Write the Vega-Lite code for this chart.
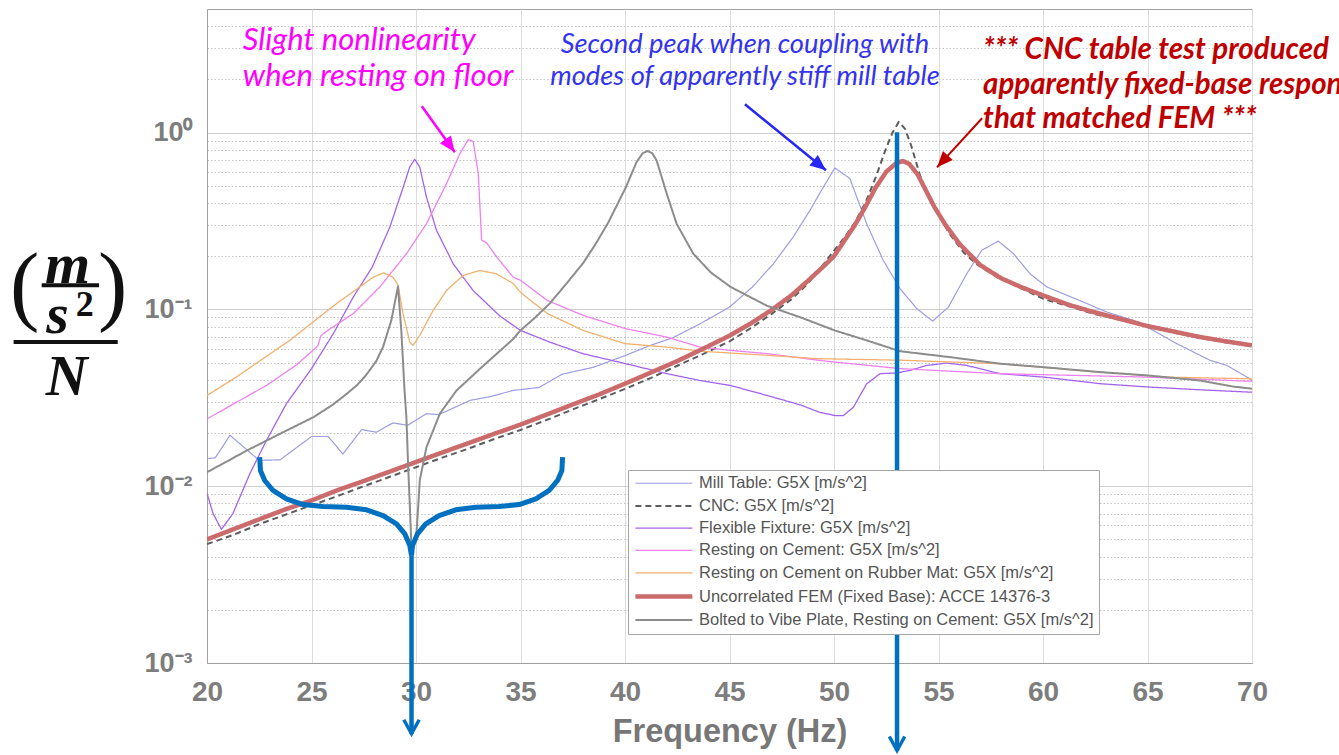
{
  "$schema": "https://vega.github.io/schema/vega-lite/v6.json",
  "width": 1045,
  "height": 654,
  "autosize": {"type": "none"},
  "padding": {"left": 207, "top": 9, "right": 87, "bottom": 92},
  "background": "#ffffff",
  "config": {
    "view": {"stroke": "#a0a0a0", "strokeWidth": 1},
    "font": "Liberation Sans"
  },
  "datasets": {
    "curves": [
      {"s": "Mill Table: G5X [m/s^2]", "f": 20, "v": 0.0143},
      {"s": "Mill Table: G5X [m/s^2]", "f": 20.4, "v": 0.0145},
      {"s": "Mill Table: G5X [m/s^2]", "f": 21.1, "v": 0.0194},
      {"s": "Mill Table: G5X [m/s^2]", "f": 22.5, "v": 0.0140},
      {"s": "Mill Table: G5X [m/s^2]", "f": 23.5, "v": 0.0141},
      {"s": "Mill Table: G5X [m/s^2]", "f": 25, "v": 0.0191},
      {"s": "Mill Table: G5X [m/s^2]", "f": 25.8, "v": 0.0191},
      {"s": "Mill Table: G5X [m/s^2]", "f": 26.5, "v": 0.0152},
      {"s": "Mill Table: G5X [m/s^2]", "f": 27.4, "v": 0.0209},
      {"s": "Mill Table: G5X [m/s^2]", "f": 28.1, "v": 0.0202},
      {"s": "Mill Table: G5X [m/s^2]", "f": 28.9, "v": 0.0228},
      {"s": "Mill Table: G5X [m/s^2]", "f": 29.6, "v": 0.0221},
      {"s": "Mill Table: G5X [m/s^2]", "f": 30.5, "v": 0.0257},
      {"s": "Mill Table: G5X [m/s^2]", "f": 31.1, "v": 0.0254},
      {"s": "Mill Table: G5X [m/s^2]", "f": 32.6, "v": 0.0306},
      {"s": "Mill Table: G5X [m/s^2]", "f": 33.5, "v": 0.0320},
      {"s": "Mill Table: G5X [m/s^2]", "f": 34.65, "v": 0.0348},
      {"s": "Mill Table: G5X [m/s^2]", "f": 35.9, "v": 0.0362},
      {"s": "Mill Table: G5X [m/s^2]", "f": 37, "v": 0.0430},
      {"s": "Mill Table: G5X [m/s^2]", "f": 38.5, "v": 0.0471},
      {"s": "Mill Table: G5X [m/s^2]", "f": 39.9, "v": 0.0542},
      {"s": "Mill Table: G5X [m/s^2]", "f": 41.2, "v": 0.0625},
      {"s": "Mill Table: G5X [m/s^2]", "f": 42.3, "v": 0.0692},
      {"s": "Mill Table: G5X [m/s^2]", "f": 43.6, "v": 0.083},
      {"s": "Mill Table: G5X [m/s^2]", "f": 45, "v": 0.103},
      {"s": "Mill Table: G5X [m/s^2]", "f": 46.1, "v": 0.134},
      {"s": "Mill Table: G5X [m/s^2]", "f": 47.1, "v": 0.181},
      {"s": "Mill Table: G5X [m/s^2]", "f": 48.05, "v": 0.257},
      {"s": "Mill Table: G5X [m/s^2]", "f": 48.85, "v": 0.363},
      {"s": "Mill Table: G5X [m/s^2]", "f": 49.3, "v": 0.45},
      {"s": "Mill Table: G5X [m/s^2]", "f": 50.04, "v": 0.631},
      {"s": "Mill Table: G5X [m/s^2]", "f": 50.76, "v": 0.55},
      {"s": "Mill Table: G5X [m/s^2]", "f": 51.56, "v": 0.306},
      {"s": "Mill Table: G5X [m/s^2]", "f": 52.36, "v": 0.189},
      {"s": "Mill Table: G5X [m/s^2]", "f": 53.16, "v": 0.131},
      {"s": "Mill Table: G5X [m/s^2]", "f": 53.96, "v": 0.101},
      {"s": "Mill Table: G5X [m/s^2]", "f": 54.72, "v": 0.0859},
      {"s": "Mill Table: G5X [m/s^2]", "f": 55.47, "v": 0.103},
      {"s": "Mill Table: G5X [m/s^2]", "f": 56.35, "v": 0.159},
      {"s": "Mill Table: G5X [m/s^2]", "f": 57.07, "v": 0.216},
      {"s": "Mill Table: G5X [m/s^2]", "f": 57.86, "v": 0.243},
      {"s": "Mill Table: G5X [m/s^2]", "f": 58.58, "v": 0.207},
      {"s": "Mill Table: G5X [m/s^2]", "f": 59.38, "v": 0.159},
      {"s": "Mill Table: G5X [m/s^2]", "f": 60.18, "v": 0.134},
      {"s": "Mill Table: G5X [m/s^2]", "f": 61.93, "v": 0.110},
      {"s": "Mill Table: G5X [m/s^2]", "f": 63.05, "v": 0.0966},
      {"s": "Mill Table: G5X [m/s^2]", "f": 64.33, "v": 0.0867},
      {"s": "Mill Table: G5X [m/s^2]", "f": 65.28, "v": 0.076},
      {"s": "Mill Table: G5X [m/s^2]", "f": 66.4, "v": 0.064},
      {"s": "Mill Table: G5X [m/s^2]", "f": 68, "v": 0.0515},
      {"s": "Mill Table: G5X [m/s^2]", "f": 68.8, "v": 0.0482},
      {"s": "Mill Table: G5X [m/s^2]", "f": 69.76, "v": 0.0414},
      {"s": "Mill Table: G5X [m/s^2]", "f": 70, "v": 0.0396},

      {"s": "CNC: G5X [m/s^2]", "f": 20, "v": 0.0047},
      {"s": "CNC: G5X [m/s^2]", "f": 21.25, "v": 0.0053},
      {"s": "CNC: G5X [m/s^2]", "f": 22.5, "v": 0.0061},
      {"s": "CNC: G5X [m/s^2]", "f": 23.75, "v": 0.0069},
      {"s": "CNC: G5X [m/s^2]", "f": 25, "v": 0.0078},
      {"s": "CNC: G5X [m/s^2]", "f": 26.25, "v": 0.0088},
      {"s": "CNC: G5X [m/s^2]", "f": 27.5, "v": 0.0100},
      {"s": "CNC: G5X [m/s^2]", "f": 28.75, "v": 0.0113},
      {"s": "CNC: G5X [m/s^2]", "f": 30, "v": 0.0128},
      {"s": "CNC: G5X [m/s^2]", "f": 31.25, "v": 0.0145},
      {"s": "CNC: G5X [m/s^2]", "f": 32.5, "v": 0.0163},
      {"s": "CNC: G5X [m/s^2]", "f": 33.75, "v": 0.0185},
      {"s": "CNC: G5X [m/s^2]", "f": 35, "v": 0.0208},
      {"s": "CNC: G5X [m/s^2]", "f": 36.25, "v": 0.0237},
      {"s": "CNC: G5X [m/s^2]", "f": 37.5, "v": 0.0272},
      {"s": "CNC: G5X [m/s^2]", "f": 38.75, "v": 0.031},
      {"s": "CNC: G5X [m/s^2]", "f": 40, "v": 0.0355},
      {"s": "CNC: G5X [m/s^2]", "f": 41.25, "v": 0.041},
      {"s": "CNC: G5X [m/s^2]", "f": 42.5, "v": 0.048},
      {"s": "CNC: G5X [m/s^2]", "f": 43.75, "v": 0.056},
      {"s": "CNC: G5X [m/s^2]", "f": 45, "v": 0.066},
      {"s": "CNC: G5X [m/s^2]", "f": 46, "v": 0.078},
      {"s": "CNC: G5X [m/s^2]", "f": 47, "v": 0.094},
      {"s": "CNC: G5X [m/s^2]", "f": 48, "v": 0.115},
      {"s": "CNC: G5X [m/s^2]", "f": 48.75, "v": 0.14},
      {"s": "CNC: G5X [m/s^2]", "f": 49.5, "v": 0.18},
      {"s": "CNC: G5X [m/s^2]", "f": 50, "v": 0.215},
      {"s": "CNC: G5X [m/s^2]", "f": 50.5, "v": 0.255},
      {"s": "CNC: G5X [m/s^2]", "f": 51, "v": 0.31},
      {"s": "CNC: G5X [m/s^2]", "f": 51.5, "v": 0.40},
      {"s": "CNC: G5X [m/s^2]", "f": 52, "v": 0.56},
      {"s": "CNC: G5X [m/s^2]", "f": 52.5, "v": 0.82},
      {"s": "CNC: G5X [m/s^2]", "f": 52.8, "v": 1.0},
      {"s": "CNC: G5X [m/s^2]", "f": 53.1, "v": 1.15},
      {"s": "CNC: G5X [m/s^2]", "f": 53.4, "v": 1.05},
      {"s": "CNC: G5X [m/s^2]", "f": 53.7, "v": 0.84},
      {"s": "CNC: G5X [m/s^2]", "f": 54.1, "v": 0.58},
      {"s": "CNC: G5X [m/s^2]", "f": 54.5, "v": 0.44},
      {"s": "CNC: G5X [m/s^2]", "f": 54.8, "v": 0.38},
      {"s": "CNC: G5X [m/s^2]", "f": 55.5, "v": 0.27},
      {"s": "CNC: G5X [m/s^2]", "f": 56.2, "v": 0.21},
      {"s": "CNC: G5X [m/s^2]", "f": 56.8, "v": 0.181},
      {"s": "CNC: G5X [m/s^2]", "f": 57.8, "v": 0.152},
      {"s": "CNC: G5X [m/s^2]", "f": 58.8, "v": 0.134},
      {"s": "CNC: G5X [m/s^2]", "f": 60, "v": 0.115},
      {"s": "CNC: G5X [m/s^2]", "f": 61.25, "v": 0.104},
      {"s": "CNC: G5X [m/s^2]", "f": 62.4, "v": 0.0946},
      {"s": "CNC: G5X [m/s^2]", "f": 63.75, "v": 0.087},
      {"s": "CNC: G5X [m/s^2]", "f": 65, "v": 0.080},
      {"s": "CNC: G5X [m/s^2]", "f": 66.25, "v": 0.074},
      {"s": "CNC: G5X [m/s^2]", "f": 67.5, "v": 0.069},
      {"s": "CNC: G5X [m/s^2]", "f": 68.75, "v": 0.065},
      {"s": "CNC: G5X [m/s^2]", "f": 70, "v": 0.062},

      {"s": "Flexible Fixture: G5X [m/s^2]", "f": 20, "v": 0.0091},
      {"s": "Flexible Fixture: G5X [m/s^2]", "f": 20.29, "v": 0.0070},
      {"s": "Flexible Fixture: G5X [m/s^2]", "f": 20.69, "v": 0.0057},
      {"s": "Flexible Fixture: G5X [m/s^2]", "f": 21.24, "v": 0.0070},
      {"s": "Flexible Fixture: G5X [m/s^2]", "f": 22.04, "v": 0.0117},
      {"s": "Flexible Fixture: G5X [m/s^2]", "f": 22.84, "v": 0.0181},
      {"s": "Flexible Fixture: G5X [m/s^2]", "f": 23.8, "v": 0.0293},
      {"s": "Flexible Fixture: G5X [m/s^2]", "f": 25, "v": 0.0462},
      {"s": "Flexible Fixture: G5X [m/s^2]", "f": 26.04, "v": 0.0728},
      {"s": "Flexible Fixture: G5X [m/s^2]", "f": 27, "v": 0.1174},
      {"s": "Flexible Fixture: G5X [m/s^2]", "f": 27.9, "v": 0.173},
      {"s": "Flexible Fixture: G5X [m/s^2]", "f": 28.75, "v": 0.292},
      {"s": "Flexible Fixture: G5X [m/s^2]", "f": 29.39, "v": 0.492},
      {"s": "Flexible Fixture: G5X [m/s^2]", "f": 29.7, "v": 0.638},
      {"s": "Flexible Fixture: G5X [m/s^2]", "f": 29.94, "v": 0.706},
      {"s": "Flexible Fixture: G5X [m/s^2]", "f": 30.18, "v": 0.638},
      {"s": "Flexible Fixture: G5X [m/s^2]", "f": 30.5, "v": 0.432},
      {"s": "Flexible Fixture: G5X [m/s^2]", "f": 30.98, "v": 0.280},
      {"s": "Flexible Fixture: G5X [m/s^2]", "f": 31.78, "v": 0.181},
      {"s": "Flexible Fixture: G5X [m/s^2]", "f": 32.73, "v": 0.128},
      {"s": "Flexible Fixture: G5X [m/s^2]", "f": 34, "v": 0.092},
      {"s": "Flexible Fixture: G5X [m/s^2]", "f": 35, "v": 0.076},
      {"s": "Flexible Fixture: G5X [m/s^2]", "f": 36.4, "v": 0.0653},
      {"s": "Flexible Fixture: G5X [m/s^2]", "f": 38, "v": 0.0561},
      {"s": "Flexible Fixture: G5X [m/s^2]", "f": 40.04, "v": 0.0493},
      {"s": "Flexible Fixture: G5X [m/s^2]", "f": 42, "v": 0.0433},
      {"s": "Flexible Fixture: G5X [m/s^2]", "f": 43.6, "v": 0.0396},
      {"s": "Flexible Fixture: G5X [m/s^2]", "f": 45.05, "v": 0.0371},
      {"s": "Flexible Fixture: G5X [m/s^2]", "f": 46.8, "v": 0.0326},
      {"s": "Flexible Fixture: G5X [m/s^2]", "f": 48.4, "v": 0.0288},
      {"s": "Flexible Fixture: G5X [m/s^2]", "f": 49.3, "v": 0.0262},
      {"s": "Flexible Fixture: G5X [m/s^2]", "f": 50.04, "v": 0.0251},
      {"s": "Flexible Fixture: G5X [m/s^2]", "f": 50.45, "v": 0.0251},
      {"s": "Flexible Fixture: G5X [m/s^2]", "f": 50.93, "v": 0.028},
      {"s": "Flexible Fixture: G5X [m/s^2]", "f": 51.56, "v": 0.0379},
      {"s": "Flexible Fixture: G5X [m/s^2]", "f": 52.2, "v": 0.0433},
      {"s": "Flexible Fixture: G5X [m/s^2]", "f": 53, "v": 0.0437},
      {"s": "Flexible Fixture: G5X [m/s^2]", "f": 53.64, "v": 0.0452},
      {"s": "Flexible Fixture: G5X [m/s^2]", "f": 54.43, "v": 0.0482},
      {"s": "Flexible Fixture: G5X [m/s^2]", "f": 55.39, "v": 0.0497},
      {"s": "Flexible Fixture: G5X [m/s^2]", "f": 56.35, "v": 0.0482},
      {"s": "Flexible Fixture: G5X [m/s^2]", "f": 57.94, "v": 0.0433},
      {"s": "Flexible Fixture: G5X [m/s^2]", "f": 60.04, "v": 0.0414},
      {"s": "Flexible Fixture: G5X [m/s^2]", "f": 62.73, "v": 0.038},
      {"s": "Flexible Fixture: G5X [m/s^2]", "f": 65.02, "v": 0.0364},
      {"s": "Flexible Fixture: G5X [m/s^2]", "f": 67.5, "v": 0.0351},
      {"s": "Flexible Fixture: G5X [m/s^2]", "f": 70, "v": 0.034},

      {"s": "Resting on Cement: G5X [m/s^2]", "f": 20, "v": 0.0240},
      {"s": "Resting on Cement: G5X [m/s^2]", "f": 21.4, "v": 0.0298},
      {"s": "Resting on Cement: G5X [m/s^2]", "f": 22.84, "v": 0.0371},
      {"s": "Resting on Cement: G5X [m/s^2]", "f": 24.28, "v": 0.0485},
      {"s": "Resting on Cement: G5X [m/s^2]", "f": 25.3, "v": 0.062},
      {"s": "Resting on Cement: G5X [m/s^2]", "f": 25.45, "v": 0.071},
      {"s": "Resting on Cement: G5X [m/s^2]", "f": 25.72, "v": 0.0753},
      {"s": "Resting on Cement: G5X [m/s^2]", "f": 27, "v": 0.0946},
      {"s": "Resting on Cement: G5X [m/s^2]", "f": 28.27, "v": 0.134},
      {"s": "Resting on Cement: G5X [m/s^2]", "f": 29.55, "v": 0.207},
      {"s": "Resting on Cement: G5X [m/s^2]", "f": 30.5, "v": 0.305},
      {"s": "Resting on Cement: G5X [m/s^2]", "f": 31.46, "v": 0.514},
      {"s": "Resting on Cement: G5X [m/s^2]", "f": 32.1, "v": 0.760},
      {"s": "Resting on Cement: G5X [m/s^2]", "f": 32.5, "v": 0.912},
      {"s": "Resting on Cement: G5X [m/s^2]", "f": 32.74, "v": 0.89},
      {"s": "Resting on Cement: G5X [m/s^2]", "f": 32.98, "v": 0.586},
      {"s": "Resting on Cement: G5X [m/s^2]", "f": 33.14, "v": 0.246},
      {"s": "Resting on Cement: G5X [m/s^2]", "f": 33.38, "v": 0.238},
      {"s": "Resting on Cement: G5X [m/s^2]", "f": 33.86, "v": 0.198},
      {"s": "Resting on Cement: G5X [m/s^2]", "f": 34.65, "v": 0.152},
      {"s": "Resting on Cement: G5X [m/s^2]", "f": 35, "v": 0.146},
      {"s": "Resting on Cement: G5X [m/s^2]", "f": 36.3, "v": 0.112},
      {"s": "Resting on Cement: G5X [m/s^2]", "f": 38, "v": 0.0925},
      {"s": "Resting on Cement: G5X [m/s^2]", "f": 40, "v": 0.078},
      {"s": "Resting on Cement: G5X [m/s^2]", "f": 42, "v": 0.0697},
      {"s": "Resting on Cement: G5X [m/s^2]", "f": 43.6, "v": 0.0612},
      {"s": "Resting on Cement: G5X [m/s^2]", "f": 45, "v": 0.0587},
      {"s": "Resting on Cement: G5X [m/s^2]", "f": 46.8, "v": 0.0562},
      {"s": "Resting on Cement: G5X [m/s^2]", "f": 49.3, "v": 0.0515},
      {"s": "Resting on Cement: G5X [m/s^2]", "f": 50, "v": 0.0504},
      {"s": "Resting on Cement: G5X [m/s^2]", "f": 53.2, "v": 0.0462},
      {"s": "Resting on Cement: G5X [m/s^2]", "f": 57.9, "v": 0.0433},
      {"s": "Resting on Cement: G5X [m/s^2]", "f": 62, "v": 0.0422},
      {"s": "Resting on Cement: G5X [m/s^2]", "f": 65, "v": 0.0414},
      {"s": "Resting on Cement: G5X [m/s^2]", "f": 70, "v": 0.0392},

      {"s": "Resting on Cement on Rubber Mat: G5X [m/s^2]", "f": 20, "v": 0.0326},
      {"s": "Resting on Cement on Rubber Mat: G5X [m/s^2]", "f": 21.4, "v": 0.0414},
      {"s": "Resting on Cement on Rubber Mat: G5X [m/s^2]", "f": 22.68, "v": 0.0526},
      {"s": "Resting on Cement on Rubber Mat: G5X [m/s^2]", "f": 23.96, "v": 0.0668},
      {"s": "Resting on Cement on Rubber Mat: G5X [m/s^2]", "f": 25.07, "v": 0.0848},
      {"s": "Resting on Cement on Rubber Mat: G5X [m/s^2]", "f": 26.19, "v": 0.1077},
      {"s": "Resting on Cement on Rubber Mat: G5X [m/s^2]", "f": 27.31, "v": 0.134},
      {"s": "Resting on Cement on Rubber Mat: G5X [m/s^2]", "f": 27.95, "v": 0.152},
      {"s": "Resting on Cement on Rubber Mat: G5X [m/s^2]", "f": 28.46, "v": 0.161},
      {"s": "Resting on Cement on Rubber Mat: G5X [m/s^2]", "f": 28.9, "v": 0.152},
      {"s": "Resting on Cement on Rubber Mat: G5X [m/s^2]", "f": 29.14, "v": 0.137},
      {"s": "Resting on Cement on Rubber Mat: G5X [m/s^2]", "f": 29.38, "v": 0.0946},
      {"s": "Resting on Cement on Rubber Mat: G5X [m/s^2]", "f": 29.7, "v": 0.0653},
      {"s": "Resting on Cement on Rubber Mat: G5X [m/s^2]", "f": 29.86, "v": 0.0626},
      {"s": "Resting on Cement on Rubber Mat: G5X [m/s^2]", "f": 30.18, "v": 0.0713},
      {"s": "Resting on Cement on Rubber Mat: G5X [m/s^2]", "f": 30.82, "v": 0.0986},
      {"s": "Resting on Cement on Rubber Mat: G5X [m/s^2]", "f": 31.46, "v": 0.128},
      {"s": "Resting on Cement on Rubber Mat: G5X [m/s^2]", "f": 32.25, "v": 0.1555},
      {"s": "Resting on Cement on Rubber Mat: G5X [m/s^2]", "f": 33.05, "v": 0.166},
      {"s": "Resting on Cement on Rubber Mat: G5X [m/s^2]", "f": 33.85, "v": 0.159},
      {"s": "Resting on Cement on Rubber Mat: G5X [m/s^2]", "f": 34.65, "v": 0.140},
      {"s": "Resting on Cement on Rubber Mat: G5X [m/s^2]", "f": 35, "v": 0.125},
      {"s": "Resting on Cement on Rubber Mat: G5X [m/s^2]", "f": 35.45, "v": 0.113},
      {"s": "Resting on Cement on Rubber Mat: G5X [m/s^2]", "f": 36.3, "v": 0.0946},
      {"s": "Resting on Cement on Rubber Mat: G5X [m/s^2]", "f": 38, "v": 0.076},
      {"s": "Resting on Cement on Rubber Mat: G5X [m/s^2]", "f": 40, "v": 0.064},
      {"s": "Resting on Cement on Rubber Mat: G5X [m/s^2]", "f": 42, "v": 0.0612},
      {"s": "Resting on Cement on Rubber Mat: G5X [m/s^2]", "f": 43.6, "v": 0.058},
      {"s": "Resting on Cement on Rubber Mat: G5X [m/s^2]", "f": 45, "v": 0.0567},
      {"s": "Resting on Cement on Rubber Mat: G5X [m/s^2]", "f": 46.8, "v": 0.055},
      {"s": "Resting on Cement on Rubber Mat: G5X [m/s^2]", "f": 49.3, "v": 0.0526},
      {"s": "Resting on Cement on Rubber Mat: G5X [m/s^2]", "f": 53.2, "v": 0.0516},
      {"s": "Resting on Cement on Rubber Mat: G5X [m/s^2]", "f": 57.9, "v": 0.0493},
      {"s": "Resting on Cement on Rubber Mat: G5X [m/s^2]", "f": 62.7, "v": 0.0442},
      {"s": "Resting on Cement on Rubber Mat: G5X [m/s^2]", "f": 65.9, "v": 0.0414},
      {"s": "Resting on Cement on Rubber Mat: G5X [m/s^2]", "f": 70, "v": 0.0405},

      {"s": "Uncorrelated FEM (Fixed Base): ACCE 14376-3", "f": 20, "v": 0.0050},
      {"s": "Uncorrelated FEM (Fixed Base): ACCE 14376-3", "f": 21.25, "v": 0.0057},
      {"s": "Uncorrelated FEM (Fixed Base): ACCE 14376-3", "f": 22.5, "v": 0.0065},
      {"s": "Uncorrelated FEM (Fixed Base): ACCE 14376-3", "f": 23.75, "v": 0.0074},
      {"s": "Uncorrelated FEM (Fixed Base): ACCE 14376-3", "f": 25, "v": 0.0083},
      {"s": "Uncorrelated FEM (Fixed Base): ACCE 14376-3", "f": 26.25, "v": 0.0095},
      {"s": "Uncorrelated FEM (Fixed Base): ACCE 14376-3", "f": 27.5, "v": 0.0107},
      {"s": "Uncorrelated FEM (Fixed Base): ACCE 14376-3", "f": 28.75, "v": 0.0121},
      {"s": "Uncorrelated FEM (Fixed Base): ACCE 14376-3", "f": 30, "v": 0.0137},
      {"s": "Uncorrelated FEM (Fixed Base): ACCE 14376-3", "f": 31.25, "v": 0.0155},
      {"s": "Uncorrelated FEM (Fixed Base): ACCE 14376-3", "f": 32.5, "v": 0.0175},
      {"s": "Uncorrelated FEM (Fixed Base): ACCE 14376-3", "f": 33.75, "v": 0.0198},
      {"s": "Uncorrelated FEM (Fixed Base): ACCE 14376-3", "f": 35, "v": 0.0223},
      {"s": "Uncorrelated FEM (Fixed Base): ACCE 14376-3", "f": 36.25, "v": 0.0254},
      {"s": "Uncorrelated FEM (Fixed Base): ACCE 14376-3", "f": 37.5, "v": 0.029},
      {"s": "Uncorrelated FEM (Fixed Base): ACCE 14376-3", "f": 38.75, "v": 0.033},
      {"s": "Uncorrelated FEM (Fixed Base): ACCE 14376-3", "f": 40, "v": 0.038},
      {"s": "Uncorrelated FEM (Fixed Base): ACCE 14376-3", "f": 41.25, "v": 0.044},
      {"s": "Uncorrelated FEM (Fixed Base): ACCE 14376-3", "f": 42.5, "v": 0.051},
      {"s": "Uncorrelated FEM (Fixed Base): ACCE 14376-3", "f": 43.75, "v": 0.060},
      {"s": "Uncorrelated FEM (Fixed Base): ACCE 14376-3", "f": 45, "v": 0.071},
      {"s": "Uncorrelated FEM (Fixed Base): ACCE 14376-3", "f": 46, "v": 0.083},
      {"s": "Uncorrelated FEM (Fixed Base): ACCE 14376-3", "f": 47, "v": 0.099},
      {"s": "Uncorrelated FEM (Fixed Base): ACCE 14376-3", "f": 48, "v": 0.121},
      {"s": "Uncorrelated FEM (Fixed Base): ACCE 14376-3", "f": 48.75, "v": 0.145},
      {"s": "Uncorrelated FEM (Fixed Base): ACCE 14376-3", "f": 49.5, "v": 0.175},
      {"s": "Uncorrelated FEM (Fixed Base): ACCE 14376-3", "f": 50, "v": 0.20},
      {"s": "Uncorrelated FEM (Fixed Base): ACCE 14376-3", "f": 50.5, "v": 0.245},
      {"s": "Uncorrelated FEM (Fixed Base): ACCE 14376-3", "f": 51, "v": 0.30},
      {"s": "Uncorrelated FEM (Fixed Base): ACCE 14376-3", "f": 51.5, "v": 0.38},
      {"s": "Uncorrelated FEM (Fixed Base): ACCE 14376-3", "f": 52, "v": 0.49},
      {"s": "Uncorrelated FEM (Fixed Base): ACCE 14376-3", "f": 52.5, "v": 0.60},
      {"s": "Uncorrelated FEM (Fixed Base): ACCE 14376-3", "f": 53, "v": 0.675},
      {"s": "Uncorrelated FEM (Fixed Base): ACCE 14376-3", "f": 53.3, "v": 0.69},
      {"s": "Uncorrelated FEM (Fixed Base): ACCE 14376-3", "f": 53.6, "v": 0.665},
      {"s": "Uncorrelated FEM (Fixed Base): ACCE 14376-3", "f": 54, "v": 0.58},
      {"s": "Uncorrelated FEM (Fixed Base): ACCE 14376-3", "f": 54.4, "v": 0.47},
      {"s": "Uncorrelated FEM (Fixed Base): ACCE 14376-3", "f": 54.8, "v": 0.38},
      {"s": "Uncorrelated FEM (Fixed Base): ACCE 14376-3", "f": 55.3, "v": 0.305},
      {"s": "Uncorrelated FEM (Fixed Base): ACCE 14376-3", "f": 56, "v": 0.235},
      {"s": "Uncorrelated FEM (Fixed Base): ACCE 14376-3", "f": 57, "v": 0.178},
      {"s": "Uncorrelated FEM (Fixed Base): ACCE 14376-3", "f": 58, "v": 0.150},
      {"s": "Uncorrelated FEM (Fixed Base): ACCE 14376-3", "f": 59, "v": 0.133},
      {"s": "Uncorrelated FEM (Fixed Base): ACCE 14376-3", "f": 60, "v": 0.120},
      {"s": "Uncorrelated FEM (Fixed Base): ACCE 14376-3", "f": 61.25, "v": 0.106},
      {"s": "Uncorrelated FEM (Fixed Base): ACCE 14376-3", "f": 62.5, "v": 0.096},
      {"s": "Uncorrelated FEM (Fixed Base): ACCE 14376-3", "f": 63.75, "v": 0.088},
      {"s": "Uncorrelated FEM (Fixed Base): ACCE 14376-3", "f": 65, "v": 0.0805},
      {"s": "Uncorrelated FEM (Fixed Base): ACCE 14376-3", "f": 66.25, "v": 0.075},
      {"s": "Uncorrelated FEM (Fixed Base): ACCE 14376-3", "f": 67.5, "v": 0.0698},
      {"s": "Uncorrelated FEM (Fixed Base): ACCE 14376-3", "f": 68.75, "v": 0.066},
      {"s": "Uncorrelated FEM (Fixed Base): ACCE 14376-3", "f": 70, "v": 0.0626},

      {"s": "Bolted to Vibe Plate, Resting on Cement: G5X [m/s^2]", "f": 20, "v": 0.0120},
      {"s": "Bolted to Vibe Plate, Resting on Cement: G5X [m/s^2]", "f": 21, "v": 0.0139},
      {"s": "Bolted to Vibe Plate, Resting on Cement: G5X [m/s^2]", "f": 21.9, "v": 0.0159},
      {"s": "Bolted to Vibe Plate, Resting on Cement: G5X [m/s^2]", "f": 23.5, "v": 0.0198},
      {"s": "Bolted to Vibe Plate, Resting on Cement: G5X [m/s^2]", "f": 25.1, "v": 0.0246},
      {"s": "Bolted to Vibe Plate, Resting on Cement: G5X [m/s^2]", "f": 26, "v": 0.0288},
      {"s": "Bolted to Vibe Plate, Resting on Cement: G5X [m/s^2]", "f": 26.7, "v": 0.0334},
      {"s": "Bolted to Vibe Plate, Resting on Cement: G5X [m/s^2]", "f": 27.2, "v": 0.0375},
      {"s": "Bolted to Vibe Plate, Resting on Cement: G5X [m/s^2]", "f": 27.6, "v": 0.0423},
      {"s": "Bolted to Vibe Plate, Resting on Cement: G5X [m/s^2]", "f": 28.1, "v": 0.051},
      {"s": "Bolted to Vibe Plate, Resting on Cement: G5X [m/s^2]", "f": 28.42, "v": 0.0612},
      {"s": "Bolted to Vibe Plate, Resting on Cement: G5X [m/s^2]", "f": 28.82, "v": 0.0867},
      {"s": "Bolted to Vibe Plate, Resting on Cement: G5X [m/s^2]", "f": 29.14, "v": 0.135},
      {"s": "Bolted to Vibe Plate, Resting on Cement: G5X [m/s^2]", "f": 29.3, "v": 0.075},
      {"s": "Bolted to Vibe Plate, Resting on Cement: G5X [m/s^2]", "f": 29.45, "v": 0.035},
      {"s": "Bolted to Vibe Plate, Resting on Cement: G5X [m/s^2]", "f": 29.54, "v": 0.0246},
      {"s": "Bolted to Vibe Plate, Resting on Cement: G5X [m/s^2]", "f": 29.62, "v": 0.0134},
      {"s": "Bolted to Vibe Plate, Resting on Cement: G5X [m/s^2]", "f": 29.7, "v": 0.008},
      {"s": "Bolted to Vibe Plate, Resting on Cement: G5X [m/s^2]", "f": 29.78, "v": 0.0046},
      {"s": "Bolted to Vibe Plate, Resting on Cement: G5X [m/s^2]", "f": 29.9, "v": 0.0048},
      {"s": "Bolted to Vibe Plate, Resting on Cement: G5X [m/s^2]", "f": 30.02, "v": 0.0054},
      {"s": "Bolted to Vibe Plate, Resting on Cement: G5X [m/s^2]", "f": 30.1, "v": 0.0075},
      {"s": "Bolted to Vibe Plate, Resting on Cement: G5X [m/s^2]", "f": 30.18, "v": 0.0108},
      {"s": "Bolted to Vibe Plate, Resting on Cement: G5X [m/s^2]", "f": 30.5, "v": 0.0166},
      {"s": "Bolted to Vibe Plate, Resting on Cement: G5X [m/s^2]", "f": 31.14, "v": 0.0257},
      {"s": "Bolted to Vibe Plate, Resting on Cement: G5X [m/s^2]", "f": 31.94, "v": 0.0348},
      {"s": "Bolted to Vibe Plate, Resting on Cement: G5X [m/s^2]", "f": 33.05, "v": 0.046},
      {"s": "Bolted to Vibe Plate, Resting on Cement: G5X [m/s^2]", "f": 34, "v": 0.058},
      {"s": "Bolted to Vibe Plate, Resting on Cement: G5X [m/s^2]", "f": 34.65, "v": 0.068},
      {"s": "Bolted to Vibe Plate, Resting on Cement: G5X [m/s^2]", "f": 35, "v": 0.076},
      {"s": "Bolted to Vibe Plate, Resting on Cement: G5X [m/s^2]", "f": 35.7, "v": 0.09},
      {"s": "Bolted to Vibe Plate, Resting on Cement: G5X [m/s^2]", "f": 36.4, "v": 0.108},
      {"s": "Bolted to Vibe Plate, Resting on Cement: G5X [m/s^2]", "f": 37.2, "v": 0.14},
      {"s": "Bolted to Vibe Plate, Resting on Cement: G5X [m/s^2]", "f": 38, "v": 0.183},
      {"s": "Bolted to Vibe Plate, Resting on Cement: G5X [m/s^2]", "f": 38.6, "v": 0.235},
      {"s": "Bolted to Vibe Plate, Resting on Cement: G5X [m/s^2]", "f": 39.2, "v": 0.31},
      {"s": "Bolted to Vibe Plate, Resting on Cement: G5X [m/s^2]", "f": 40.04, "v": 0.49},
      {"s": "Bolted to Vibe Plate, Resting on Cement: G5X [m/s^2]", "f": 40.55, "v": 0.68},
      {"s": "Bolted to Vibe Plate, Resting on Cement: G5X [m/s^2]", "f": 40.85, "v": 0.765},
      {"s": "Bolted to Vibe Plate, Resting on Cement: G5X [m/s^2]", "f": 41.08, "v": 0.787},
      {"s": "Bolted to Vibe Plate, Resting on Cement: G5X [m/s^2]", "f": 41.3, "v": 0.765},
      {"s": "Bolted to Vibe Plate, Resting on Cement: G5X [m/s^2]", "f": 41.51, "v": 0.697},
      {"s": "Bolted to Vibe Plate, Resting on Cement: G5X [m/s^2]", "f": 42, "v": 0.45},
      {"s": "Bolted to Vibe Plate, Resting on Cement: G5X [m/s^2]", "f": 42.47, "v": 0.305},
      {"s": "Bolted to Vibe Plate, Resting on Cement: G5X [m/s^2]", "f": 43.26, "v": 0.207},
      {"s": "Bolted to Vibe Plate, Resting on Cement: G5X [m/s^2]", "f": 44.1, "v": 0.162},
      {"s": "Bolted to Vibe Plate, Resting on Cement: G5X [m/s^2]", "f": 45.05, "v": 0.134},
      {"s": "Bolted to Vibe Plate, Resting on Cement: G5X [m/s^2]", "f": 46.78, "v": 0.105},
      {"s": "Bolted to Vibe Plate, Resting on Cement: G5X [m/s^2]", "f": 48.37, "v": 0.0904},
      {"s": "Bolted to Vibe Plate, Resting on Cement: G5X [m/s^2]", "f": 50.04, "v": 0.076},
      {"s": "Bolted to Vibe Plate, Resting on Cement: G5X [m/s^2]", "f": 51.56, "v": 0.0668},
      {"s": "Bolted to Vibe Plate, Resting on Cement: G5X [m/s^2]", "f": 53.16, "v": 0.058},
      {"s": "Bolted to Vibe Plate, Resting on Cement: G5X [m/s^2]", "f": 55.55, "v": 0.0537},
      {"s": "Bolted to Vibe Plate, Resting on Cement: G5X [m/s^2]", "f": 57.94, "v": 0.0493},
      {"s": "Bolted to Vibe Plate, Resting on Cement: G5X [m/s^2]", "f": 60.04, "v": 0.0471},
      {"s": "Bolted to Vibe Plate, Resting on Cement: G5X [m/s^2]", "f": 62.73, "v": 0.0442},
      {"s": "Bolted to Vibe Plate, Resting on Cement: G5X [m/s^2]", "f": 65.02, "v": 0.0423},
      {"s": "Bolted to Vibe Plate, Resting on Cement: G5X [m/s^2]", "f": 67.51, "v": 0.0396},
      {"s": "Bolted to Vibe Plate, Resting on Cement: G5X [m/s^2]", "f": 69.1, "v": 0.0366},
      {"s": "Bolted to Vibe Plate, Resting on Cement: G5X [m/s^2]", "f": 70, "v": 0.0356}
    ],
    "brace": [
      {"k": "L", "i": 0, "f": 22.523, "v": 0.014593},
      {"k": "L", "i": 1, "f": 22.556, "v": 0.012270},
      {"k": "L", "i": 2, "f": 22.762, "v": 0.010772},
      {"k": "L", "i": 3, "f": 23.159, "v": 0.009456},
      {"k": "L", "i": 4, "f": 23.801, "v": 0.008487},
      {"k": "L", "i": 5, "f": 24.596, "v": 0.007877},
      {"k": "L", "i": 6, "f": 25.553, "v": 0.007675},
      {"k": "L", "i": 7, "f": 26.673, "v": 0.007605},
      {"k": "L", "i": 8, "f": 27.631, "v": 0.007351},
      {"k": "L", "i": 9, "f": 28.425, "v": 0.006826},
      {"k": "L", "i": 10, "f": 29.067, "v": 0.006125},
      {"k": "L", "i": 11, "f": 29.464, "v": 0.005376},
      {"k": "L", "i": 12, "f": 29.703, "v": 0.004618},
      {"k": "L", "i": 13, "f": 29.785, "v": 0.004053},
      {"k": "R", "i": 0, "f": 37.013, "v": 0.014593},
      {"k": "R", "i": 1, "f": 36.980, "v": 0.012270},
      {"k": "R", "i": 2, "f": 36.774, "v": 0.010772},
      {"k": "R", "i": 3, "f": 36.371, "v": 0.009456},
      {"k": "R", "i": 4, "f": 35.735, "v": 0.008487},
      {"k": "R", "i": 5, "f": 34.936, "v": 0.007877},
      {"k": "R", "i": 6, "f": 33.978, "v": 0.007675},
      {"k": "R", "i": 7, "f": 32.863, "v": 0.007605},
      {"k": "R", "i": 8, "f": 31.905, "v": 0.007351},
      {"k": "R", "i": 9, "f": 31.106, "v": 0.006826},
      {"k": "R", "i": 10, "f": 30.469, "v": 0.006125},
      {"k": "R", "i": 11, "f": 30.072, "v": 0.005376},
      {"k": "R", "i": 12, "f": 29.833, "v": 0.004618},
      {"k": "R", "i": 13, "f": 29.785, "v": 0.004053}
    ],
    "drops": [
      {"k": "30 Hz", "f": 29.785, "v": 0.004053, "v2": 0.000398},
      {"k": "53 Hz", "f": 53.016, "v": 1.004, "v2": 0.00032}
    ],
    "arrows": [
      {"k": "mag", "f": 30.278, "v": 1.409, "f2": 31.857, "v2": 0.7736},
      {"k": "blu", "f": 45.740, "v": 1.4459, "f2": 49.617, "v2": 0.6118},
      {"k": "red", "f": 57.085, "v": 1.2048, "f2": 54.930, "v2": 0.6362}
    ],
    "notes": [
      {"k": "mag", "f": 21.709, "v": 3.287, "t": "Slight nonlinearity"},
      {"k": "mag", "f": 21.709, "v": 2.056, "t": "when resting on floor"},
      {"k": "blu", "f": 45.740, "v": 3.120, "t": "Second peak when coupling with"},
      {"k": "blu", "f": 45.740, "v": 2.056, "t": "modes of apparently stiff mill table"},
      {"k": "red", "f": 57.133, "v": 2.923, "t": "*** CNC table test produced"},
      {"k": "red", "f": 57.133, "v": 1.852, "t": "apparently fixed-base response"},
      {"k": "red", "f": 57.133, "v": 1.189, "t": "that matched FEM ***"}
    ],
    "unit": [
      {"k": "letter", "f": 13.332, "v": 0.14034, "t": "m"},
      {"k": "letter", "f": 12.853, "v": 0.07315, "t": "s"},
      {"k": "letter", "f": 13.284, "v": 0.03261, "t": "N"},
      {"k": "power", "f": 14.146, "v": 0.09129, "t": "2"},
      {"k": "paren", "f": 11.273, "v": 0.0937, "t": "("},
      {"k": "paren", "f": 15.485, "v": 0.0937, "t": ")"}
    ],
    "bars": [
      {"k": "outer", "f": 10.747, "f2": 15.728, "v": 0.06549},
      {"k": "inner", "f": 12.089, "f2": 14.837, "v": 0.13674}
    ]
  },
  "encoding": {
    "x": {
      "field": "f",
      "type": "quantitative",
      "scale": {"domain": [20, 70], "nice": false, "zero": false},
      "axis": {
        "values": [20, 25, 30, 35, 40, 45, 50, 55, 60, 65, 70],
        "title": "Frequency (Hz)",
        "grid": true,
        "gridColor": "#dcdcdc",
        "domainColor": "#a0a0a0",
        "ticks": false,
        "labelFont": "Liberation Sans",
        "labelFontWeight": "bold",
        "labelFontSize": 28,
        "labelColor": "#7d7d7d",
        "labelPadding": 15,
        "labelFlush": false,
        "labelOverlap": false,
        "titleFont": "Liberation Sans",
        "titleFontWeight": "bold",
        "titleFontSize": 32.5,
        "titleColor": "#777777",
        "titlePadding": 9
      }
    },
    "y": {
      "field": "v",
      "type": "quantitative",
      "scale": {"type": "log", "domain": [0.001, 5], "nice": false},
      "axis": {
        "values": [0.001, 0.002, 0.003, 0.004, 0.005, 0.006, 0.007, 0.008, 0.009, 0.01, 0.02, 0.03, 0.04, 0.05, 0.06, 0.07, 0.08, 0.09, 0.1, 0.2, 0.3, 0.4, 0.5, 0.6, 0.7, 0.8, 0.9, 1, 2, 3, 4],
        "title": null,
        "grid": true,
        "gridColor": {"condition": {"test": "datum.value == 1 || datum.value == 0.1 || datum.value == 0.01 || datum.value == 0.001", "value": "#cfcfcf"}, "value": "#c4c4c4"},
        "gridDash": {"condition": {"test": "datum.value == 1 || datum.value == 0.1 || datum.value == 0.01 || datum.value == 0.001", "value": []}, "value": [1.5, 2]},
        "domainColor": "#a0a0a0",
        "ticks": false,
        "labelExpr": "datum.value == 1 ? '10\u2070' : datum.value == 0.1 ? '10\u207b\u00b9' : datum.value == 0.01 ? '10\u207b\u00b2' : datum.value == 0.001 ? '10\u207b\u00b3' : ''",
        "labelOverlap": false,
        "labelFont": "Liberation Sans",
        "labelFontWeight": "bold",
        "labelFontSize": 27,
        "labelColor": "#7d7d7d",
        "labelPadding": 15
      }
    }
  },
  "layer": [
    {
      "data": {"name": "curves"},
      "mark": {"type": "line", "clip": true, "strokeJoin": "round"},
      "encoding": {
        "color": {
          "field": "s",
          "type": "nominal",
          "scale": {
            "domain": ["Mill Table: G5X [m/s^2]", "CNC: G5X [m/s^2]", "Flexible Fixture: G5X [m/s^2]", "Resting on Cement: G5X [m/s^2]", "Resting on Cement on Rubber Mat: G5X [m/s^2]", "Uncorrelated FEM (Fixed Base): ACCE 14376-3", "Bolted to Vibe Plate, Resting on Cement: G5X [m/s^2]"],
            "range": ["#9d9de2", "#5c5c5c", "#a463ec", "#ef80ef", "#f2b06c", "#cc6b6b", "#8c8c8c"]
          },
          "legend": {
            "orient": "none",
            "legendX": 421,
            "legendY": 461,
            "title": null,
            "symbolType": "M-1,0L7,0",
            "symbolSize": 203,
            "labelFont": "Liberation Sans",
            "labelFontSize": 16.5,
            "labelColor": "#555555",
            "labelLimit": 440,
            "labelOffset": 47,
            "fillColor": "#ffffff",
            "strokeColor": "#a6a6a6",
            "padding": 5,
            "rowPadding": 5.4
          }
        },
        "strokeDash": {
          "field": "s",
          "type": "nominal",
          "scale": {
            "domain": ["Mill Table: G5X [m/s^2]", "CNC: G5X [m/s^2]", "Flexible Fixture: G5X [m/s^2]", "Resting on Cement: G5X [m/s^2]", "Resting on Cement on Rubber Mat: G5X [m/s^2]", "Uncorrelated FEM (Fixed Base): ACCE 14376-3", "Bolted to Vibe Plate, Resting on Cement: G5X [m/s^2]"],
            "range": [[1, 0], [6, 4], [1, 0], [1, 0], [1, 0], [1, 0], [1, 0]]
          }
        },
        "strokeWidth": {
          "field": "s",
          "type": "nominal",
          "scale": {
            "type": "ordinal",
            "domain": ["Mill Table: G5X [m/s^2]", "CNC: G5X [m/s^2]", "Flexible Fixture: G5X [m/s^2]", "Resting on Cement: G5X [m/s^2]", "Resting on Cement on Rubber Mat: G5X [m/s^2]", "Uncorrelated FEM (Fixed Base): ACCE 14376-3", "Bolted to Vibe Plate, Resting on Cement: G5X [m/s^2]"],
            "range": [1.2, 2, 1.3, 1.3, 1.3, 4.5, 2]
          }
        }
      }
    },
    {
      "data": {"name": "brace"},
      "mark": {"type": "line", "color": "#0070c0", "strokeWidth": 5, "strokeCap": "butt", "strokeJoin": "round"},
      "encoding": {
        "detail": {"field": "k", "type": "nominal"},
        "order": {"field": "i", "type": "quantitative"}
      }
    },
    {
      "data": {"name": "drops"},
      "mark": {"type": "rule", "color": "#0070c0", "strokeWidth": 4.5},
      "encoding": {"y2": {"field": "v2"}}
    },
    {
      "data": {"name": "drops"},
      "mark": {"type": "point", "shape": "M-0.55,-1L0,0L0.55,-1", "filled": false, "stroke": "#0070c0", "strokeWidth": 3.5, "size": 784, "opacity": 1, "strokeJoin": "miter"},
      "encoding": {"y": {"field": "v2", "type": "quantitative"}}
    },
    {
      "data": {"name": "arrows"},
      "transform": [{"filter": "datum.k == 'mag'"}],
      "mark": {"type": "rule", "color": "#ff00ff", "strokeWidth": 2.5},
      "encoding": {"x2": {"field": "f2"}, "y2": {"field": "v2"}}
    },
    {
      "data": {"name": "arrows"},
      "transform": [{"filter": "datum.k == 'mag'"}],
      "mark": {"type": "point", "shape": "M0,0L-0.42,1L0.42,1Z", "filled": true, "color": "#ff00ff", "size": 1024, "angle": 144.3, "opacity": 1},
      "encoding": {"x": {"field": "f2", "type": "quantitative"}, "y": {"field": "v2", "type": "quantitative"}}
    },
    {
      "data": {"name": "arrows"},
      "transform": [{"filter": "datum.k == 'blu'"}],
      "mark": {"type": "rule", "color": "#2626f5", "strokeWidth": 2.5},
      "encoding": {"x2": {"field": "f2"}, "y2": {"field": "v2"}}
    },
    {
      "data": {"name": "arrows"},
      "transform": [{"filter": "datum.k == 'blu'"}],
      "mark": {"type": "point", "shape": "M0,0L-0.42,1L0.42,1Z", "filled": true, "color": "#2626f5", "size": 1024, "angle": 129.2, "opacity": 1},
      "encoding": {"x": {"field": "f2", "type": "quantitative"}, "y": {"field": "v2", "type": "quantitative"}}
    },
    {
      "data": {"name": "arrows"},
      "transform": [{"filter": "datum.k == 'red'"}],
      "mark": {"type": "rule", "color": "#c00000", "strokeWidth": 2},
      "encoding": {"x2": {"field": "f2"}, "y2": {"field": "v2"}}
    },
    {
      "data": {"name": "arrows"},
      "transform": [{"filter": "datum.k == 'red'"}],
      "mark": {"type": "point", "shape": "M0,0L-0.42,1L0.42,1Z", "filled": true, "color": "#c00000", "size": 1024, "angle": 222.6, "opacity": 1},
      "encoding": {"x": {"field": "f2", "type": "quantitative"}, "y": {"field": "v2", "type": "quantitative"}}
    },
    {
      "data": {"name": "notes"},
      "transform": [{"filter": "datum.k == 'mag'"}],
      "mark": {"type": "text", "align": "left", "baseline": "middle", "font": "Lato", "fontStyle": "italic", "fontSize": 31, "color": "#ff00ff"},
      "encoding": {"text": {"field": "t"}}
    },
    {
      "data": {"name": "notes"},
      "transform": [{"filter": "datum.k == 'blu'"}],
      "mark": {"type": "text", "align": "center", "baseline": "middle", "font": "Lato", "fontStyle": "italic", "fontSize": 27.3, "color": "#3333f0"},
      "encoding": {"text": {"field": "t"}}
    },
    {
      "data": {"name": "notes"},
      "transform": [{"filter": "datum.k == 'red'"}],
      "mark": {"type": "text", "align": "left", "baseline": "middle", "font": "Lato", "fontStyle": "italic", "fontWeight": "bold", "fontSize": 29.5, "color": "#c00000"},
      "encoding": {"text": {"field": "t"}}
    },
    {
      "data": {"name": "unit"},
      "transform": [{"filter": "datum.k == 'letter'"}],
      "mark": {"type": "text", "align": "center", "baseline": "alphabetic", "font": "Liberation Serif", "fontStyle": "italic", "fontWeight": "bold", "fontSize": 58, "color": "#111111"},
      "encoding": {"text": {"field": "t"}}
    },
    {
      "data": {"name": "unit"},
      "transform": [{"filter": "datum.k == 'power'"}],
      "mark": {"type": "text", "align": "center", "baseline": "alphabetic", "font": "Liberation Serif", "fontWeight": "bold", "fontSize": 36, "color": "#111111"},
      "encoding": {"text": {"field": "t"}}
    },
    {
      "data": {"name": "unit"},
      "transform": [{"filter": "datum.k == 'paren'"}],
      "mark": {"type": "text", "align": "center", "baseline": "alphabetic", "font": "Liberation Serif", "fontSize": 88, "color": "#111111"},
      "encoding": {"text": {"field": "t"}}
    },
    {
      "data": {"name": "bars"},
      "mark": {"type": "rule", "color": "#111111", "strokeWidth": 4},
      "encoding": {"x2": {"field": "f2"}}
    }
  ]
}
